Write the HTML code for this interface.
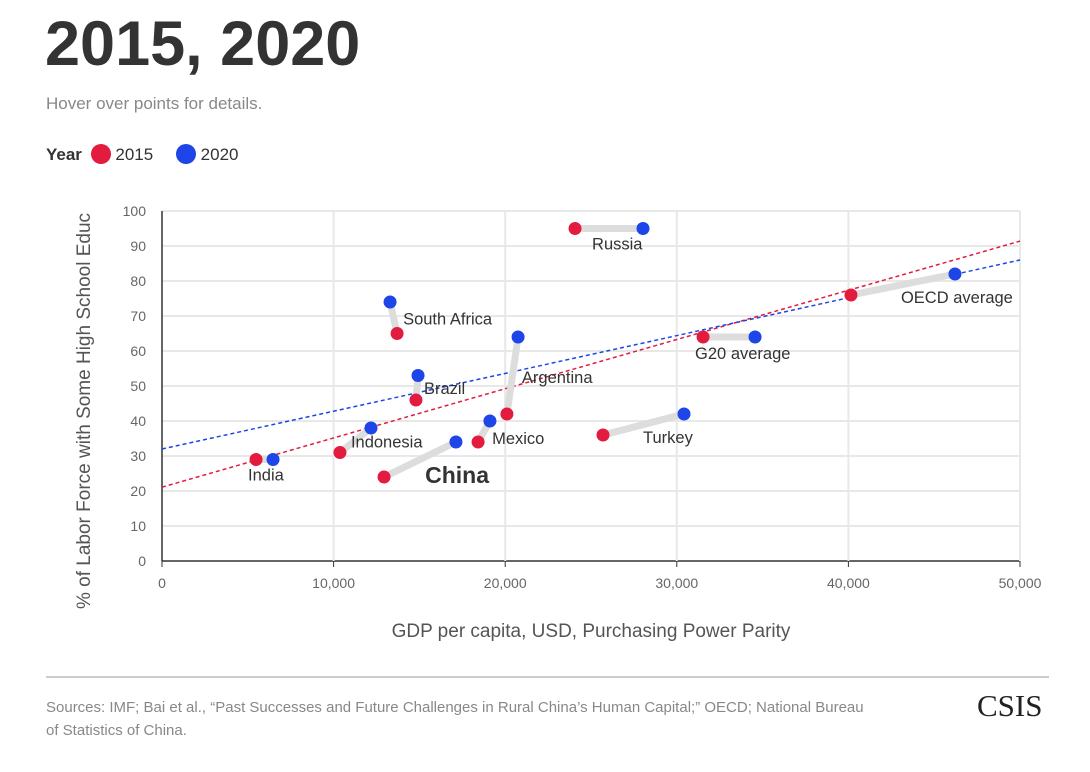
<!DOCTYPE html>
<html><head><meta charset="utf-8"><style>
body{margin:0;background:#fff;width:1090px;height:772px;overflow:hidden;font-family:"Liberation Sans",sans-serif;position:relative}
.t{position:absolute;white-space:nowrap}
</style></head><body>
<div class="t" style="left:45px;top:8px;font-size:63px;font-weight:bold;color:#333;letter-spacing:0px">2015, 2020</div>
<div class="t" style="left:46px;top:94px;font-size:17px;color:#888">Hover over points for details.</div>
<div class="t" style="left:46px;top:144px;font-size:17px;color:#333">
<b>Year</b>
<span><span style="display:inline-block;width:20px;height:20px;border-radius:50%;background:#e31b3f;vertical-align:-4px;margin-left:4px"></span> 2015</span>
<span style="margin-left:18px"><span style="display:inline-block;width:20px;height:20px;border-radius:50%;background:#1d45e8;vertical-align:-4px"></span> 2020</span>
</div>
<svg id="chart" width="1090" height="772" style="position:absolute;left:0;top:0" font-family="Liberation Sans, sans-serif"></svg>
<div class="t" style="left:46px;top:676px;width:1003px;height:2px;background:#ccc"></div>
<div class="t" style="left:46px;top:696px;font-size:15px;color:#888;line-height:23px">Sources: IMF; Bai et al., “Past Successes and Future Challenges in Rural China’s Human Capital;” OECD; National Bureau<br>of Statistics of China.</div>
<div class="t" style="left:977px;top:688px;font-size:31px;font-family:'Liberation Serif',serif;color:#222">CSIS</div>
<script>
const names=["India","Indonesia","China","Mexico","Argentina","Brazil","South Africa","Russia","Turkey","G20 average","OECD average"];
const gdp2015=[5480,10370,12940,18420,20100,14800,13700,24070,25700,31530,40150];
const edu2015=[29,31,24,34,42,46,65,95,36,64,76];
const gdp2020=[6470,12180,17130,19110,20750,14920,13290,28030,30420,34560,46210];
const edu2020=[29,38,34,40,64,53,74,95,42,64,82];
const xTicks=[0,10000,20000,30000,40000,50000];
const yTicks=[0,10,20,30,40,50,60,70,80,90,100];
const trend2015=[21.1,91.4];
const trend2020=[32,86];
const labelOff=[[-8,21],[11,-5],[73,6],[14,2],[15,-31],[8,-6],[6,-9],[17,21],[40,8],[-8,22],[50,8]];
const sx=v=>162+v/50000*858, sy=v=>561-v*3.5;
const svg=document.getElementById('chart');const NS='http://www.w3.org/2000/svg';
function mk(t,a,p){const e=document.createElementNS(NS,t);for(const k in a)e.setAttribute(k,a[k]);(p||svg).appendChild(e);return e;}
yTicks.forEach(v=>{const l=mk('line',{x1:162,x2:1020,y1:sy(v),y2:sy(v),stroke:v?'#e8e8e8':'#333','stroke-width':v?2:1.5});
const t=mk('text',{x:146,y:sy(v)+5,'text-anchor':'end','font-size':14,fill:'#666'});t.textContent=v;});
xTicks.forEach(v=>{if(v){const l=mk('line',{x1:sx(v),x2:sx(v),y1:211,y2:561,stroke:'#e8e8e8','stroke-width':2});}
const tk=mk('line',{x1:sx(v),x2:sx(v),y1:561,y2:567,stroke:'#333'});
const t=mk('text',{x:sx(v),y:588,'text-anchor':'middle','font-size':14,fill:'#666'});t.textContent=v.toLocaleString('en-US');});
const yl=mk('line',{x1:162,x2:162,y1:211,y2:561,stroke:'#333','stroke-width':1.5});
let tx=mk('text',{x:591,y:637,'text-anchor':'middle','font-size':19,fill:'#555'});tx.textContent='GDP per capita, USD, Purchasing Power Parity';
let ty=mk('text',{x:0,y:0,'text-anchor':'middle','font-size':19,fill:'#555',transform:'translate(90,411) rotate(-90)'});ty.textContent='% of Labor Force with Some High School Educ';
[[trend2015,'#e31b3f','trendline-2015'],[trend2020,'#1d45e8','trendline-2020']].forEach(([tr,c,n])=>{const l=mk('line',{x1:sx(0),y1:sy(tr[0]),x2:sx(50000),y2:sy(tr[1]),stroke:c,'stroke-width':1.5,'stroke-dasharray':'4 3'});});
names.forEach((n,i)=>{const l=mk('line',{x1:sx(gdp2015[i]),y1:sy(edu2015[i]),x2:sx(gdp2020[i]),y2:sy(edu2020[i]),stroke:'#ddd','stroke-width':7,'stroke-linecap':'round'});});
names.forEach((n,i)=>{
const a=mk('circle',{cx:sx(gdp2015[i]),cy:sy(edu2015[i]),r:6.5,fill:'#e31b3f'});
const b=mk('circle',{cx:sx(gdp2020[i]),cy:sy(edu2020[i]),r:6.5,fill:'#1d45e8'});
const o=labelOff[i];const big=n==='China';
const t=mk('text',{x:sx(gdp2015[i])+o[0],y:sy(edu2015[i])+o[1],'font-size':big?23:16.5,'font-weight':big?'bold':'normal',fill:'#333','text-anchor':big?'middle':'start'});t.textContent=n;});
</script>
</body></html>
